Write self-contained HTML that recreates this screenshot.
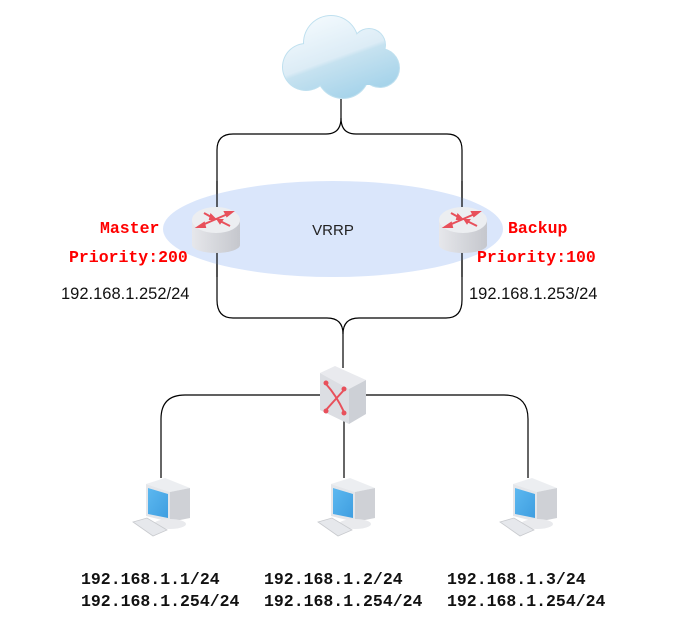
<!DOCTYPE html>
<html><head><meta charset="utf-8"><style>
html,body{margin:0;padding:0;background:#fff;}
svg{display:block}
.m{font-family:"Liberation Mono",monospace;font-weight:bold;}
.s{font-family:"Liberation Sans",sans-serif;}
</style></head><body>
<svg width="691" height="642" viewBox="0 0 691 642" xmlns="http://www.w3.org/2000/svg">
<defs>
<linearGradient id="cg" gradientUnits="userSpaceOnUse" x1="320" y1="16" x2="350" y2="99">
<stop offset="0" stop-color="#f2f9fd"/><stop offset="0.5" stop-color="#dcecf6"/><stop offset="0.55" stop-color="#c6e2f0"/><stop offset="1" stop-color="#a5d3ea"/></linearGradient>
<linearGradient id="rb" x1="0" y1="0" x2="1" y2="0"><stop offset="0" stop-color="#e6e7eb"/><stop offset="1" stop-color="#c5c7cd"/></linearGradient>
<linearGradient id="sc" x1="0" y1="0" x2="1" y2="1"><stop offset="0" stop-color="#5cb8f0"/><stop offset="1" stop-color="#3f9ee0"/></linearGradient>
<g id="router">
<path d="M-24,0 L-24,25 A24,8 0 0 0 24,25 L24,0 Z" fill="url(#rb)"/>
<ellipse cx="0" cy="0" rx="24" ry="13" fill="#eceef1"/>
<g stroke="#e8505b" stroke-width="2" fill="#e8505b">
<line x1="-16" y1="6" x2="14" y2="-7"/><polygon points="16,-8 9,-8 11,-4" />
<line x1="-12" y1="-7" x2="-3" y2="-2"/><polygon points="-1,-1 -5,-5 -6,-1"/>
<line x1="4" y1="1" x2="14" y2="6"/><polygon points="2,0 6,0 4,3"/>
<polygon points="-18,7 -12,3 -11,7"/>
</g>
</g>
<g id="pc">
<polygon points="21,14 40,8 65,18 45,22" fill="#eceef1"/>
<polygon points="45,22 65,18 65,48 45,52" fill="#cfd1d6"/>
<polygon points="21,14 45,22 45,52 21,46" fill="#e4e6ea"/>
<polygon points="23,18 43,24 43,48 23,44" fill="url(#sc)"/>
<ellipse cx="45" cy="54" rx="16" ry="5" fill="#e9eaed"/>
<polygon points="8,52 22,48 42,60 28,66" fill="#e6e8ec" stroke="#c8cace" stroke-width="0.8"/>
</g>
</defs>
<g fill="none" stroke="#000" stroke-width="1.2">
<path d="M341,99 L341,118 Q341,134 326,134 L233,134 Q217,134 217,150 L217,207"/>
<path d="M341,118 Q341,134 356,134 L447,134 Q462,134 462,150 L462,207"/>
<path d="M217,252 L217,300 Q217,318 233,318 L327,318 Q343,318 343,334 L343,368"/>
<path d="M462,252 L462,300 Q462,318 446,318 L359,318 Q343,318 343,334"/>
<path d="M320,395 L185,395 Q161,395 161,419 L161,478"/>
<path d="M366,395 L504,395 Q528,395 528,419 L528,478"/>
<path d="M344,420 L344,478"/>
</g>
<ellipse cx="333" cy="229" rx="170" ry="48" fill="#dae6fb"/>
<line x1="217" y1="181" x2="217" y2="207" stroke="#000" stroke-width="1.2"/>
<line x1="462" y1="181" x2="462" y2="207" stroke="#000" stroke-width="1.2"/>
<line x1="217" y1="252" x2="217" y2="277" stroke="#000" stroke-width="1.2"/>
<line x1="462" y1="252" x2="462" y2="277" stroke="#000" stroke-width="1.2"/>
<!-- cloud -->
<g fill="#bfe0ef">
<circle cx="306" cy="67" r="24"/><circle cx="331" cy="43" r="28"/><circle cx="369" cy="45" r="17"/>
<circle cx="380" cy="68" r="20"/><circle cx="343" cy="72" r="27"/>
</g>
<g fill="url(#cg)"><circle cx="306" cy="67" r="23"/><circle cx="331" cy="43" r="27"/><circle cx="369" cy="45" r="16"/>
<circle cx="380" cy="68" r="19"/><circle cx="343" cy="72" r="26"/><rect x="300" y="50" width="80" height="35"/></g>
<use href="#router" x="216" y="220"/>
<use href="#router" x="463" y="220"/>
<!-- switch -->
<polygon points="320,373 335,366 366,380 349,389" fill="#e9eaee"/>
<polygon points="349,389 366,380 366,414 349,424" fill="#cdd0d6"/>
<polygon points="320,373 349,389 349,424 320,410" fill="#dcdee3"/>
<g stroke="#e8505b" stroke-width="2" fill="none">
<path d="M326,384 Q336,395 344,412"/><path d="M344,390 Q333,402 326,410"/>
</g>
<g fill="#e8505b"><circle cx="326" cy="383" r="2.5"/><circle cx="344" cy="413" r="2.5"/><circle cx="344" cy="389" r="2.5"/><circle cx="326" cy="411" r="2.5"/></g>
<use href="#pc" x="125" y="470"/>
<use href="#pc" x="310" y="470"/>
<use href="#pc" x="492" y="470"/>
<text x="333" y="235" class="s" font-size="15" fill="#222" text-anchor="middle">VRRP</text>
<text x="100" y="233" class="m" font-size="16.5" fill="#ff0000">Master</text>
<text x="69" y="262" class="m" font-size="16.5" fill="#ff0000">Priority:200</text>
<text x="508" y="233" class="m" font-size="16.5" fill="#ff0000">Backup</text>
<text x="477" y="262" class="m" font-size="16.5" fill="#ff0000">Priority:100</text>
<text x="61" y="299" class="s" font-size="16.5" fill="#111">192.168.1.252/24</text>
<text x="469" y="299" class="s" font-size="16.5" fill="#111">192.168.1.253/24</text>
<g class="m" font-size="16.5" fill="#111">
<text x="81" y="584">192.168.1.1/24</text><text x="81" y="606">192.168.1.254/24</text>
<text x="264" y="584">192.168.1.2/24</text><text x="264" y="606">192.168.1.254/24</text>
<text x="447" y="584">192.168.1.3/24</text><text x="447" y="606">192.168.1.254/24</text>
</g>
</svg>
</body></html>
